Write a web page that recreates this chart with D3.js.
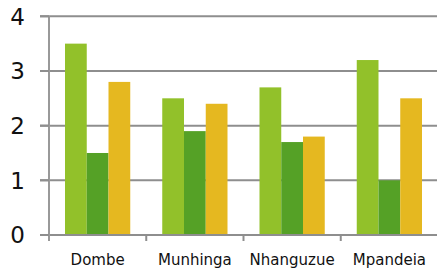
<!DOCTYPE html>
<html>
<head>
<meta charset="utf-8">
<script src="https://cdn.jsdelivr.net/npm/d3@7"></script>
<style>
  html, body { margin: 0; padding: 0; background: #fff; overflow: hidden; }
</style>
</head>
<body>
<div id="chart"></div>
<script>
var categories = ["Dombe", "Munhinga", "Nhanguzue", "Mpandeia"];
var seriesNames = ["s1", "s2", "s3"];
var seriesA = [3.5, 2.5, 2.7, 3.2];
var seriesB = [1.5, 1.9, 1.7, 1.0];
var seriesC = [2.8, 2.4, 1.8, 2.5];
var yTicks = [0, 1, 2, 3, 4];
var colors = ["#92c12a", "#55a126", "#e5b820"];

var width = 437, height = 268;
var plotLeft = 49, plotRight = 438, plotTop = 16.3, plotBottom = 235;

var svg = d3.select("#chart").append("svg")
    .attr("width", width)
    .attr("height", height);

var y = d3.scaleLinear().domain([0, 4]).range([plotBottom, plotTop]);
var x0 = d3.scaleBand().domain(categories).range([plotLeft, plotRight]).padding(0);
var x1 = d3.scaleBand().domain(seriesNames).range([16, x0.bandwidth() - 16]).padding(0);

// gridlines
svg.append("g").selectAll("line")
    .data(yTicks.filter(function(d){ return d > 0; }))
    .enter().append("line")
    .attr("x1", plotLeft - 9).attr("x2", width)
    .attr("y1", function(d){ return y(d); })
    .attr("y2", function(d){ return y(d); })
    .attr("stroke", "#8e8e8e")
    .attr("stroke-width", 2);

// bars
var rows = categories.map(function(c, i){
    return [seriesA[i], seriesB[i], seriesC[i]];
});
var groups = svg.append("g").selectAll("g")
    .data(rows)
    .enter().append("g")
    .attr("transform", function(d, i){ return "translate(" + x0(categories[i]) + ",0)"; });

groups.selectAll("rect")
    .data(function(d){ return d; })
    .enter().append("rect")
    .attr("x", function(d, j){ return x1(seriesNames[j]); })
    .attr("y", function(d){ return y(d); })
    .attr("width", x1.bandwidth())
    .attr("height", function(d){ return plotBottom - y(d); })
    .attr("fill", function(d, j){ return colors[j]; });

// x axis
var xAxis = svg.append("g")
    .attr("transform", "translate(0," + plotBottom + ")");
xAxis.append("line")
    .attr("x1", plotLeft - 9).attr("x2", width)
    .attr("stroke", "#8e8e8e").attr("stroke-width", 2);
xAxis.selectAll("line.tick")
    .data(categories.concat(["end"]))
    .enter().append("line")
    .attr("class", "tick")
    .attr("x1", function(d, i){ return plotLeft + i * x0.step(); })
    .attr("x2", function(d, i){ return plotLeft + i * x0.step(); })
    .attr("y1", 0).attr("y2", 6)
    .attr("stroke", "#8e8e8e").attr("stroke-width", 2);
xAxis.selectAll("text")
    .data(categories)
    .enter().append("text")
    .attr("x", function(d){ return x0(d) + x0.bandwidth() / 2; })
    .attr("y", 30)
    .attr("text-anchor", "middle")
    .attr("font-family", "DejaVu Sans, sans-serif")
    .attr("font-size", "15px")
    .attr("fill", "#111")
    .text(function(d){ return d; });

// y axis
var yAxis = svg.append("g");
yAxis.append("line")
    .attr("x1", plotLeft).attr("x2", plotLeft)
    .attr("y1", plotTop).attr("y2", plotBottom + 6)
    .attr("stroke", "#999").attr("stroke-width", 2);
yAxis.selectAll("line.tick")
    .data(yTicks)
    .enter().append("line")
    .attr("class", "tick")
    .attr("x1", plotLeft - 9).attr("x2", plotLeft)
    .attr("y1", function(d){ return y(d); })
    .attr("y2", function(d){ return y(d); })
    .attr("stroke", "#8e8e8e").attr("stroke-width", 2);
yAxis.selectAll("text")
    .data(yTicks)
    .enter().append("text")
    .attr("x", 25)
    .attr("y", function(d){ return y(d); })
    .attr("dy", "0.36em")
    .attr("text-anchor", "end")
    .attr("font-family", "DejaVu Sans, sans-serif")
    .attr("font-size", "23px")
    .attr("fill", "#111")
    .text(function(d){ return d; });
</script>
</body>
</html>
